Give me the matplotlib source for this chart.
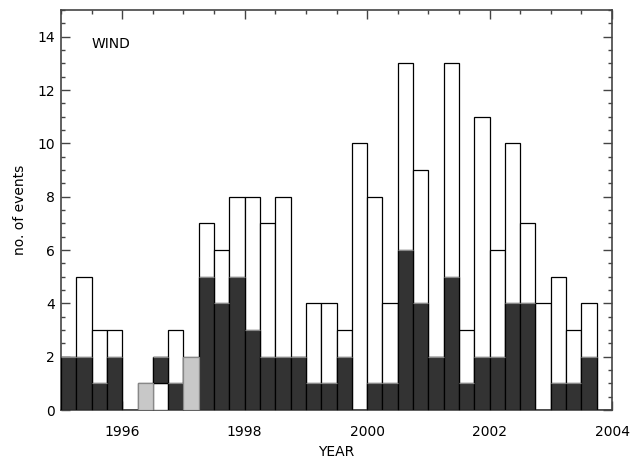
import matplotlib
matplotlib.use("Agg")
import matplotlib.pyplot as plt
import numpy as np
from matplotlib.ticker import MultipleLocator

# quarterly bins starting 1995.0
bin_start = 1995.0
bin_width = 0.25
total = [2, 5, 3, 3, 0, 1, 2, 3, 2, 7, 6, 8, 8, 7, 8, 2, 4, 4, 3, 10, 8, 4, 13, 9,
         2, 13, 3, 11, 6, 10, 7, 4, 5, 3, 4, 0]
lower_white = [0, 0, 0, 0, 0, 0, 1, 0, 0, 0, 0, 0, 0, 0, 0, 0, 0, 0, 0, 0, 0, 0, 0, 0,
               0, 0, 0, 0, 0, 0, 0, 0, 0, 0, 0, 0]
dark = [2, 2, 1, 2, 0, 0, 1, 1, 0, 5, 4, 5, 3, 2, 2, 2, 1, 1, 2, 0, 1, 1, 6, 4,
        2, 5, 1, 2, 2, 4, 4, 0, 1, 1, 2, 0]
gray = [0, 0, 0, 0, 0, 1, 0, 0, 2, 0, 0, 0, 0, 0, 0, 0, 0, 0, 0, 0, 0, 0, 0, 0,
        0, 0, 0, 0, 0, 0, 0, 0, 0, 0, 0, 0]

x_ticks = [1996, 1998, 2000, 2002, 2004]
y_ticks = [0, 2, 4, 6, 8, 10, 12, 14]

fig = plt.figure(figsize=(6.41, 4.59), dpi=100)
ax = fig.add_axes([61/641, 1 - 410/459, (612-61)/641, (410-10)/459])

n = len(total)
lefts = bin_start + bin_width * np.arange(n)
total = np.array(total); lower_white = np.array(lower_white)
dark = np.array(dark); gray = np.array(gray)

ec = 'black'
lw = 0.9
ax.bar(lefts, total, width=bin_width, align='edge', color='white', edgecolor=ec, linewidth=lw, zorder=2)
ax.bar(lefts, lower_white, width=bin_width, align='edge', color='white', edgecolor=ec, linewidth=lw, zorder=3)
ax.bar(lefts, dark, bottom=lower_white, width=bin_width, align='edge', color='#333333', edgecolor=ec, linewidth=lw, zorder=3)
ax.bar(lefts, gray, bottom=lower_white + dark, width=bin_width, align='edge', color='#c8c8c8', edgecolor='#888888', linewidth=lw, zorder=3)

ax.set_xlim(1995, 2004)
ax.set_ylim(0, 15)
ax.set_xticks(x_ticks)
ax.set_xticklabels([str(t) for t in x_ticks])
ax.set_yticks(y_ticks)
ax.xaxis.set_minor_locator(MultipleLocator(0.5))
ax.yaxis.set_minor_locator(MultipleLocator(0.5))
ax.tick_params(which='both', direction='in', top=True, right=True, color='#444444', width=1, labelsize=10)
ax.tick_params(which='major', length=6.5)
ax.tick_params(which='minor', length=3)
ax.tick_params(axis='x', pad=11)
ax.tick_params(axis='y', pad=4.5)
for s in ax.spines.values():
    s.set_color('#444444')
    s.set_linewidth(1.2)

ax.set_xlabel('YEAR', fontsize=10, va='center')
ax.xaxis.set_label_coords(0.5, (410 - 452) / 400)
ax.set_ylabel('no. of events', fontsize=10, va='center')
ax.yaxis.set_label_coords((20 - 61) / 551, 0.5)
ax.text(0.055, 0.915, 'WIND', transform=ax.transAxes, fontsize=10, ha='left', va='center')

fig.savefig('out.png', dpi=100)
